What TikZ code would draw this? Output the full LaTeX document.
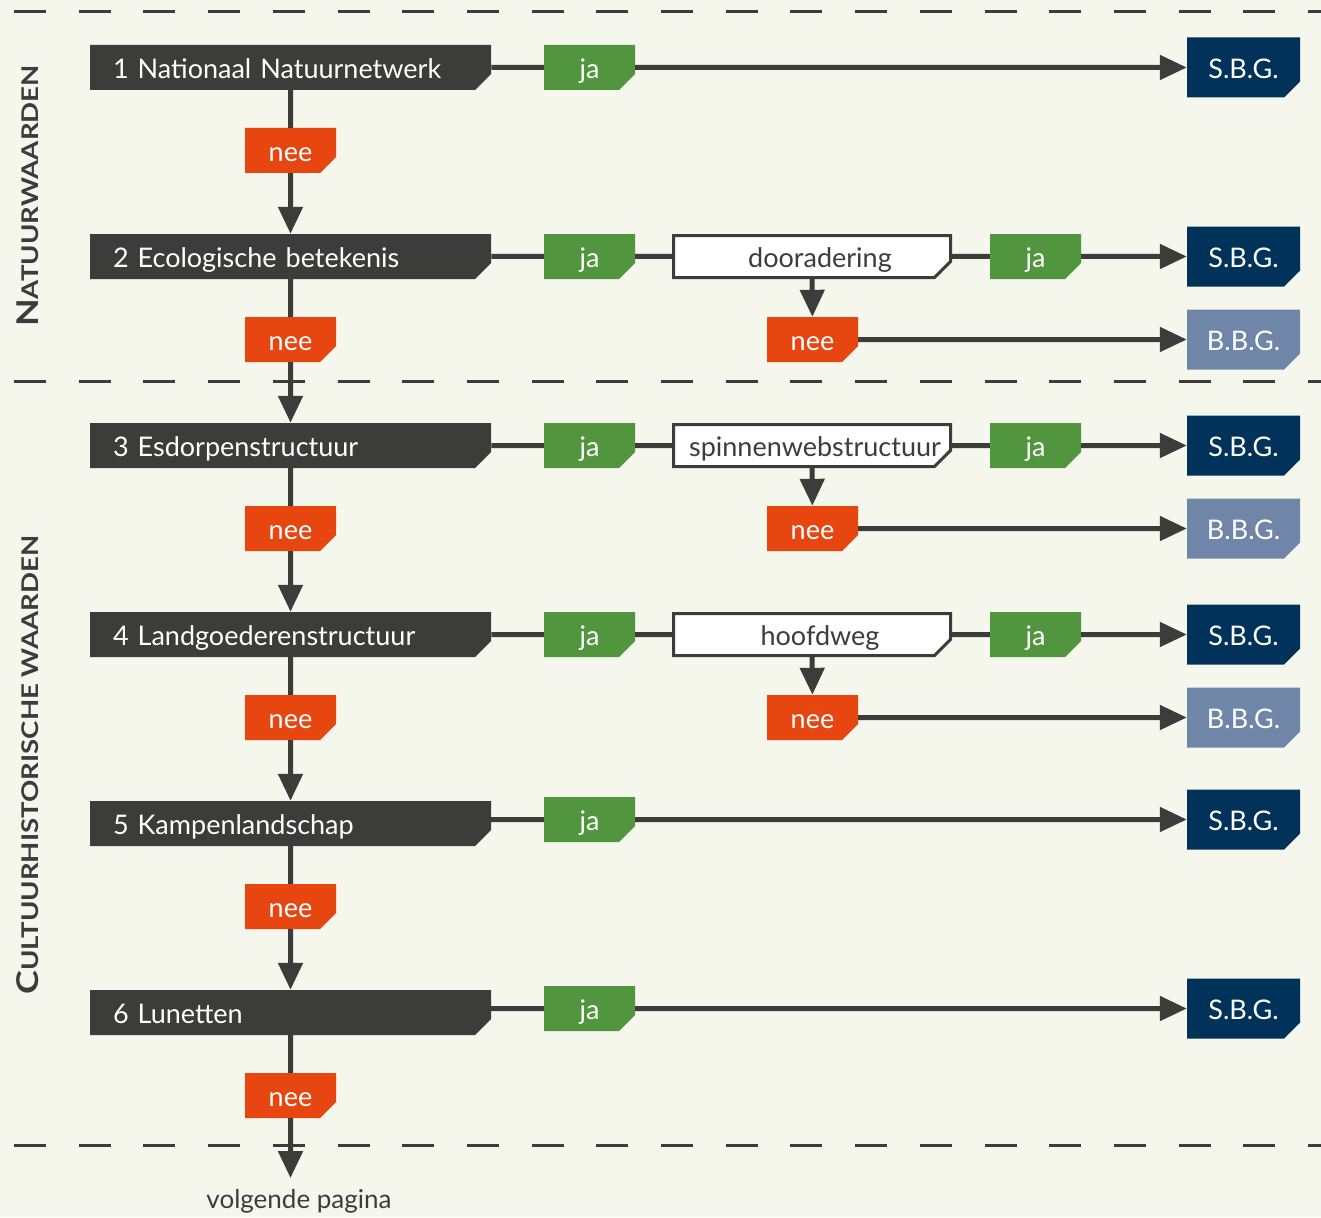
\documentclass[tikz,border=0pt]{standalone}
\usepackage{fontspec}
\setmainfont{Lato}
\usetikzlibrary{arrows.meta,shapes.misc}
\definecolor{achtergrond}{HTML}{F5F7EC}
\definecolor{donker}{HTML}{3C3C3B}
\definecolor{oranje}{HTML}{E84610}
\definecolor{groen}{HTML}{52953F}
\definecolor{marine}{HTML}{00325A}
\definecolor{staal}{HTML}{6F86A8}

\begin{document}
\begin{tikzpicture}[x=1pt, y=-1pt, line cap=butt, line join=miter,
  >={Triangle[length=27pt,width=24pt]},
  hoek/.style={chamfered rectangle, chamfered rectangle corners=south east,
    chamfered rectangle xsep=8pt, chamfered rectangle ysep=8pt,
    inner sep=0pt, text height=22pt, text depth=0pt,
    text=white, font=\fontsize{27}{28}\selectfont},
  vraag/.style={hoek, fill=donker, minimum width=401pt, minimum height=45pt,
    text width=355pt, align=left},
  ja/.style={hoek, fill=groen, minimum width=91pt, minimum height=45pt},
  nee/.style={hoek, fill=oranje, minimum width=91pt, minimum height=45pt},
  sbg/.style={hoek, fill=marine, minimum width=113pt, minimum height=60pt},
  bbg/.style={hoek, fill=staal, minimum width=113pt, minimum height=60pt},
  extra/.style={hoek, draw=donker, line width=3pt, fill=white, text=donker,
    minimum width=277pt, minimum height=42pt},
  lijn/.style={draw=donker, line width=5pt},
  grens/.style={draw=donker, line width=3pt, dash pattern=on 32pt off 32.7pt},
  zijkop/.style={text=donker, font=\bfseries\fontsize{23}{24}\selectfont}]

  % achtergrond en kader
  \fill[achtergrond] (0,0) rectangle (1321,1217);
  \useasboundingbox (0,0) rectangle (1321,1217);
  \draw[grens] (14,12) -- (1321,12);
  \draw[grens] (14,381) -- (1321,381);
  \draw[grens] (14,1145) -- (1321,1145);

  % zijkoppen
  \node[zijkop, rotate=90] (natuur) at (28,196)
    {\scalebox{1.2}[1]{{\fontsize{30}{30}\selectfont N}ATUURWAARDEN}};
  \node[zijkop, rotate=90] (cultuur) at (28,765)
    {\scalebox{1.2}[1]{{\fontsize{30}{30}\selectfont C}ULTUURHISTORISCHE WAARDEN}};

  % 1 Nationaal Natuurnetwerk
  \node[vraag] (v1) at (290.5,67.5) {1 Nationaal Natuurnetwerk};
  \node[ja] (j1) at (589.5,67.5) {ja};
  \node[sbg] (s1) at (1243.5,67.5) {S.B.G.};
  \node[nee] (n1) at (290.5,150.5) {nee};
  \draw[lijn] (v1) -- (j1);
  \draw[lijn, ->] (j1) -- (s1);
  \draw[lijn] (v1) -- (n1);

  % 2 Ecologische betekenis
  \node[vraag] (v2) at (290.5,256.5) {2 Ecologische betekenis};
  \node[ja] (j2) at (589.5,256.5) {ja};
  \node[extra] (e2) at (812,256.5) {\hspace*{16pt}dooradering};
  \node[ja] (ja2) at (1035.5,256.5) {ja};
  \node[sbg] (s2) at (1243.5,256.5) {S.B.G.};
  \node[nee] (n2) at (290.5,339.5) {nee};
  \node[nee] (ne2) at (812.5,339.5) {nee};
  \node[bbg] (b2) at (1243.5,339.5) {B.B.G.};
  \draw[lijn, ->] (n1) -- (v2);
  \draw[lijn] (v2) -- (j2) -- (e2) -- (ja2);
  \draw[lijn, ->] (ja2) -- (s2);
  \draw[lijn, ->] (e2) -- (ne2);
  \draw[lijn, ->] (ne2) -- (b2);
  \draw[lijn] (v2) -- (n2);

  % 3 Esdorpenstructuur
  \node[vraag] (v3) at (290.5,445.5) {3 Esdorpenstructuur};
  \node[ja] (j3) at (589.5,445.5) {ja};
  \node[extra] (e3) at (812,445.5) {\hspace*{6pt}spinnenwebstructuur};
  \node[ja] (ja3) at (1035.5,445.5) {ja};
  \node[sbg] (s3) at (1243.5,445.5) {S.B.G.};
  \node[nee] (n3) at (290.5,528.5) {nee};
  \node[nee] (ne3) at (812.5,528.5) {nee};
  \node[bbg] (b3) at (1243.5,528.5) {B.B.G.};
  \draw[lijn, ->] (n2) -- (v3);
  \draw[lijn] (v3) -- (j3) -- (e3) -- (ja3);
  \draw[lijn, ->] (ja3) -- (s3);
  \draw[lijn, ->] (e3) -- (ne3);
  \draw[lijn, ->] (ne3) -- (b3);
  \draw[lijn] (v3) -- (n3);

  % 4 Landgoederenstructuur
  \node[vraag] (v4) at (290.5,634.5) {4 Landgoederenstructuur};
  \node[ja] (j4) at (589.5,634.5) {ja};
  \node[extra] (e4) at (812,634.5) {\hspace*{16pt}hoofdweg};
  \node[ja] (ja4) at (1035.5,634.5) {ja};
  \node[sbg] (s4) at (1243.5,634.5) {S.B.G.};
  \node[nee] (n4) at (290.5,717.5) {nee};
  \node[nee] (ne4) at (812.5,717.5) {nee};
  \node[bbg] (b4) at (1243.5,717.5) {B.B.G.};
  \draw[lijn, ->] (n3) -- (v4);
  \draw[lijn] (v4) -- (j4) -- (e4) -- (ja4);
  \draw[lijn, ->] (ja4) -- (s4);
  \draw[lijn, ->] (e4) -- (ne4);
  \draw[lijn, ->] (ne4) -- (b4);
  \draw[lijn] (v4) -- (n4);

  % 5 Kampenlandschap
  \node[vraag] (v5) at (290.5,823.5) {5 Kampenlandschap};
  \node[ja] (j5) at (589.5,819.5) {ja};
  \node[sbg] (s5) at (1243.5,819.5) {S.B.G.};
  \node[nee] (n5) at (290.5,906.5) {nee};
  \draw[lijn, ->] (n4) -- (v5);
  \draw[lijn] (v5.east |- j5) -- (j5);
  \draw[lijn, ->] (j5) -- (s5);
  \draw[lijn] (v5) -- (n5);

  % 6 Lunetten
  \node[vraag] (v6) at (290.5,1012.5) {6 Lunetten};
  \node[ja] (j6) at (589.5,1008.5) {ja};
  \node[sbg] (s6) at (1243.5,1008.5) {S.B.G.};
  \node[nee] (n6) at (290.5,1095.5) {nee};
  \draw[lijn, ->] (n5) -- (v6);
  \draw[lijn] (v6.east |- j6) -- (j6);
  \draw[lijn, ->] (j6) -- (s6);
  \draw[lijn] (v6) -- (n6);

  % verder
  \coordinate (verder) at (290.5,1178);
  \node[text=donker, font=\fontsize{26}{28}\selectfont] (volgende) at (299,1201) {volgende pagina};
  \draw[lijn, ->] (n6) -- (verder);
\end{tikzpicture}
\end{document}
